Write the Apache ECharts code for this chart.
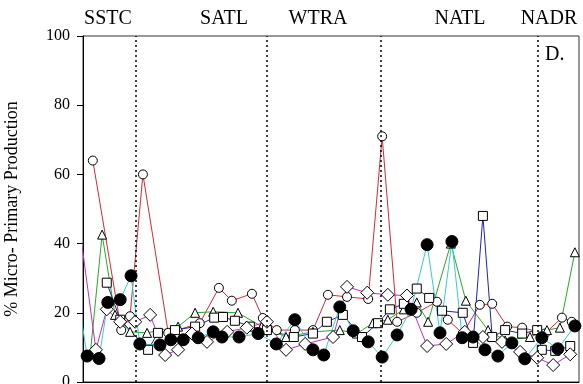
<!DOCTYPE html>
<html>
<head>
<meta charset="utf-8">
<script src="https://cdn.jsdelivr.net/npm/echarts@6/dist/echarts.min.js"></script>
<style>
  html, body { margin: 0; padding: 0; background: #fff; }
  #chart { width: 583px; height: 384px; }
</style>
</head>
<body>
<div id="chart"></div>
<script>
// Biogeographic provinces along the transect and the latitudes that separate them
const provinces = ['SSTC', 'SATL', 'WTRA', 'NATL', 'NADR'];
const provinceBounds = [-35.7, -10.4, 11.7, 42.1];

// Open circles (red line)
const circleLat = [-44.1, -38.6, -36.9, -34.4, -29.5, -23.4, -19.7, -17.2, -13.3, -11.2, -8.5, -5.0, -1.5, 1.4, 5.1, 9.2, 11.9, 14.8, 18.6, 22.5, 24.6, 27.5, 30.8, 33.2, 36.1, 39.0, 43.4, 46.7, 48.6];
const circleVal = [64, 15, 19, 60, 14.2, 17, 27.2, 23.5, 25.5, 18.5, 15, 15, 15, 25.2, 24.6, 24, 71, 17.4, 20, 23.2, 18, 14, 22.3, 22.6, 16, 15.7, 14, 18.6, 17.4];

// Open triangles (green line)
const triangleLat = [-44.6, -42.3, -39.8, -36.9, -33.6, -27.6, -24.3, -20.8, -16.0, -11.4, -6.7, -1.5, 3.7, 7.0, 10.1, 13.0, 16.1, 18.6, 20.8, 25.2, 28.1, 32.4, 35.7, 40.5, 43.8, 46.3, 49.2];
const triangleVal = [8, 42.6, 19.4, 14.5, 14.2, 16, 20, 20.3, 20, 16, 13, 14.5, 15, 14, 17, 18, 21, 23, 17.4, 40, 23.5, 15, 12, 13, 15, 15.7, 37.5];

// Open squares (blue line)
const squareLat = [-41.4, -38.8, -33.4, -31.5, -28.2, -24.3, -20.6, -18.9, -16.6, -13.7, -10.4, -5.2, -1.5, 1.2, 4.3, 8.0, 11.1, 13.4, 16.1, 18.6, 21.0, 23.5, 27.5, 29.5, 31.4, 33.2, 35.7, 39.0, 41.9, 42.8, 45.4, 48.3];
const squareVal = [28.7, 18, 9.3, 14.2, 15, 16, 18.6, 18.8, 17.7, 16, 15, 13, 14, 17.4, 19.4, 13, 17, 21, 22.6, 27, 24.3, 20.6, 20, 11.3, 48, 13, 15, 14, 15, 9.3, 9, 10.4];

// Open diamonds (magenta line)
const diamondLat = [-46.6, -43.5, -41.4, -38.8, -35.9, -33.0, -30.1, -27.6, -24.9, -22.0, -18.1, -14.3, -10.4, -6.7, -3.0, 2.4, 5.1, 9.0, 13.0, 16.7, 20.6, 24.3, 27.9, 31.4, 35.1, 38.6, 41.9, 45.0, 48.3];
const diamondVal = [44, 9.3, 21, 17.4, 17.4, 19.4, 7.8, 9.3, 14, 11.6, 14.5, 15.7, 17.4, 9.3, 11, 13, 27.5, 25.8, 25.2, 25, 10.4, 11, 14.5, 13, 11.6, 8.7, 7, 4.9, 8];

// Filled circles (cyan line)
const dotLat = [-46.5, -45.2, -42.9, -41.2, -38.8, -36.7, -35.0, -31.1, -29.0, -26.6, -23.7, -20.8, -19.1, -15.8, -12.1, -8.6, -5.0, -1.5, 0.6, 3.7, 6.3, 9.2, 11.9, 14.8, 17.5, 20.6, 23.1, 25.4, 27.4, 29.5, 31.8, 34.3, 37.0, 39.5, 42.8, 45.9, 49.2];
const dotVal = [20, 7.5, 6.8, 23, 23.8, 30.7, 11, 10.7, 12.2, 12.2, 12.8, 14.5, 13, 13, 14, 11, 18, 9.3, 7.8, 21.7, 14.8, 11.6, 7.2, 13.6, 21, 39.7, 14.2, 40.6, 12.8, 13, 9.3, 7.5, 11.3, 6.7, 12.8, 9.6, 16.2];

const serif = "'Liberation Serif', 'Times New Roman', 'DejaVu Serif', serif";

function pairs(xs, ys) {
  return xs.map((x, i) => [x, ys[i]]);
}

function lineSeries(name, xs, ys, color, symbol, size, filled) {
  return {
    name: name,
    type: 'line',
    data: pairs(xs, ys),
    symbol: symbol,
    symbolSize: size,
    showAllSymbol: true,
    clip: true,
    lineStyle: { color: color, width: 1 },
    itemStyle: {
      color: filled ? '#000' : '#fff',
      borderColor: '#000',
      borderWidth: 1
    },
    emphasis: { disabled: true },
    animation: false
  };
}

const chart = echarts.init(document.getElementById('chart'), null, { renderer: 'canvas' });

const series = [
  lineSeries('circles', circleLat, circleVal, '#cc2b3a', 'circle', 9, false),
  lineSeries('triangles', triangleLat, triangleVal, '#2aa62a', 'triangle', 9, false),
  lineSeries('squares', squareLat, squareVal, '#1f24a8', 'rect', 9, false),
  lineSeries('diamonds', diamondLat, diamondVal, '#c02ec0', 'diamond', 13, false),
  lineSeries('dots', dotLat, dotVal, '#36cccc', 'circle', 12, true)
];

// Dotted province boundaries
series[0].markLine = {
  silent: true,
  symbol: ['none', 'none'],
  label: { show: false },
  lineStyle: { type: [2, 3], color: '#000', width: 1.5 },
  data: provinceBounds.map(b => ({ xAxis: b }))
};

const provinceCentres = [108, 224, 318, 460, 549];

chart.setOption({
  animation: false,
  backgroundColor: '#fff',
  grid: {
    left: 83, right: 4, top: 36, bottom: 2,
    outerBoundsMode: 'none',
    containLabel: false,
    show: true, borderColor: '#333', borderWidth: 1, backgroundColor: 'transparent'
  },
  xAxis: {
    type: 'value', min: -46, max: 50,
    axisLine: { show: true, lineStyle: { color: '#000' } },
    axisTick: { show: false },
    axisLabel: { show: false },
    splitLine: { show: false }
  },
  yAxis: {
    type: 'value', min: 0, max: 100, interval: 20,
    axisLine: { show: true, onZero: false, lineStyle: { color: '#000', width: 1 } },
    axisTick: { show: true, length: 6, lineStyle: { color: '#000' } },
    axisLabel: { color: '#000', fontFamily: serif, fontSize: 16, margin: 13 },
    splitLine: { show: false },
    name: '% Micro- Primary Production',
    nameLocation: 'middle',
    nameGap: 62,
    nameTextStyle: { color: '#000', fontFamily: serif, fontSize: 18 }
  },
  graphic: provinces.map((p, i) => ({
    type: 'text',
    x: provinceCentres[i],
    y: 19,
    style: {
      text: p, fill: '#000', font: '20px ' + serif,
      textAlign: 'center', textVerticalAlign: 'middle'
    }
  })).concat([{
    type: 'text',
    x: 545, y: 55,
    style: { text: 'D.', fill: '#000', font: '20px ' + serif, textVerticalAlign: 'middle' }
  }]),
  series: series
});
</script>
</body>
</html>
